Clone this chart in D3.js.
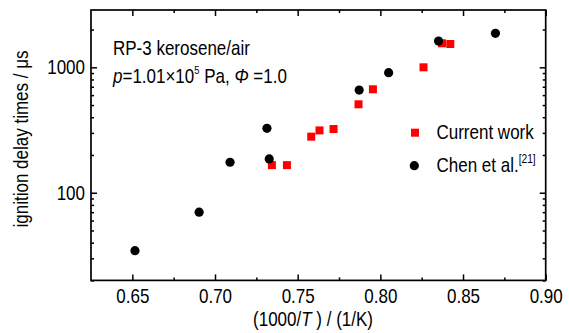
<!DOCTYPE html>
<html><head><meta charset="utf-8">
<script src="https://cdn.jsdelivr.net/npm/d3@7"></script>
<style>
html,body{margin:0;padding:0;background:#fff;}
text{font-family:'Liberation Sans',Arial,sans-serif;fill:#000;}
</style></head>
<body><svg id="c" width="569" height="333"></svg>
<script>
// Data
const currentX = [0.7344, 0.7435, 0.7582, 0.7632, 0.7717, 0.7868, 0.7955, 0.8261, 0.8373, 0.8423];
const currentY = [166, 166, 280, 314, 322, 507, 668, 1000, 1554, 1534];
const chenX = [0.6516, 0.6904, 0.7091, 0.7314, 0.7328, 0.7872, 0.8050, 0.8352, 0.8696];
const chenY = [34.5, 70, 175, 326, 186, 659, 906, 1620, 1867];
const xTicks = [0.65, 0.70, 0.75, 0.80, 0.85, 0.90];
const xMinor = [0.675, 0.725, 0.775, 0.825, 0.875];
const yTicks = [100, 1000];
const yMinor = [20,30,40,50,60,70,80,90,200,300,400,500,600,700,800,900,2000];

const SX = 0.85; // condensed look
const svg = d3.select('#c');
const L = 91, R = 545.7, T = 10, B = 280.4;
const x = d3.scaleLinear().domain([0.625, 0.90]).range([L, R]);
const y = d3.scaleLog().domain([20, Math.pow(10, 3 + (67.3 - 10) / 125.4)]).range([B, T]);

const g = svg.append('g');
function styleAxis(sel){ sel.select('.domain').remove(); sel.selectAll('line').attr('stroke','#000').attr('stroke-width',1.5); }
const fs = 20;
g.append('g').attr('transform',`translate(0,${B})`)
  .call(d3.axisBottom(x).tickValues(xTicks).tickFormat(d3.format('.2f')).tickSizeInner(-6).tickSizeOuter(0).tickPadding(8))
  .call(styleAxis).call(s=>s.selectAll('text').attr('font-size',fs).attr('font-family',null).attr('transform',`scale(${SX},1)`));
g.append('g').attr('transform',`translate(0,${B})`)
  .call(d3.axisBottom(x).tickValues(xMinor).tickFormat('').tickSizeInner(-3).tickSizeOuter(0)).call(styleAxis);
g.append('g').attr('transform',`translate(0,${T})`)
  .call(d3.axisTop(x).tickValues(xTicks).tickFormat('').tickSizeInner(-6).tickSizeOuter(0)).call(styleAxis);
g.append('g').attr('transform',`translate(0,${T})`)
  .call(d3.axisTop(x).tickValues(xMinor).tickFormat('').tickSizeInner(-3).tickSizeOuter(0)).call(styleAxis);
g.append('g').attr('transform',`translate(${L},0)`)
  .call(d3.axisLeft(y).tickValues(yTicks).tickFormat(d3.format('d')).tickSizeInner(-6).tickSizeOuter(0).tickPadding(5))
  .call(styleAxis).call(s=>s.selectAll('text').attr('font-size',fs).attr('font-family',null).attr('x',-6/SX).attr('transform',`scale(${SX},1)`));
g.append('g').attr('transform',`translate(${L},0)`)
  .call(d3.axisLeft(y).tickValues(yMinor).tickFormat('').tickSizeInner(-3).tickSizeOuter(0)).call(styleAxis);
g.append('g').attr('transform',`translate(${R},0)`)
  .call(d3.axisRight(y).tickValues(yTicks).tickFormat('').tickSizeInner(-6).tickSizeOuter(0)).call(styleAxis);
g.append('g').attr('transform',`translate(${R},0)`)
  .call(d3.axisRight(y).tickValues(yMinor).tickFormat('').tickSizeInner(-3).tickSizeOuter(0)).call(styleAxis);
g.append('rect').attr('x',L).attr('y',T).attr('width',R-L).attr('height',B-T)
  .attr('fill','none').attr('stroke','#000').attr('stroke-width',1.7);

// data marks
const sq = 8;
g.selectAll('.cw').data(currentX).join('rect').attr('class','cw')
  .attr('x',(d,i)=>x(d)-sq/2).attr('y',(d,i)=>y(currentY[i])-sq/2).attr('width',sq).attr('height',sq).attr('fill','#ff0000');
g.selectAll('.ch').data(chenX).join('circle').attr('class','ch')
  .attr('cx',d=>x(d)).attr('cy',(d,i)=>y(chenY[i])).attr('r',4.6).attr('fill','#000');

function label(px, py, rot){
  return g.append('g').attr('transform',`translate(${px},${py})${rot?' rotate('+rot+')':''} scale(${SX},1)`)
    .append('text').attr('font-size',fs);
}
// legend
g.append('rect').attr('x',415-sq/2).attr('y',132.7-sq/2).attr('width',sq).attr('height',sq).attr('fill','#ff0000');
g.append('circle').attr('cx',414.3).attr('cy',165.7).attr('r',4.6).attr('fill','#000');
label(436.5,139).text('Current work');
const t2 = label(436.5,172);
t2.append('tspan').text('Chen et al.');
t2.append('tspan').attr('font-size',12).attr('dy',-9).text('[21]');

// annotation
label(113,55).text('RP-3 kerosene/air');
const a2 = label(113,82.7);
a2.append('tspan').attr('font-style','italic').text('p');
a2.append('tspan').text('=1.01×10');
a2.append('tspan').attr('font-size',11).attr('dy',-9).text('5');
a2.append('tspan').attr('dy',9).text(' Pa, ');
a2.append('tspan').attr('font-style','italic').text('Φ');
a2.append('tspan').text(' =1.0');

// axis titles
const xl = label(313,326).attr('text-anchor','middle');
xl.append('tspan').text('(1000/');
xl.append('tspan').attr('font-style','italic').text('T');
xl.append('tspan').text(' ) / (1/K)');
label(28,139,-90).attr('text-anchor','middle').text('ignition delay times  / μs');
</script></body></html>
